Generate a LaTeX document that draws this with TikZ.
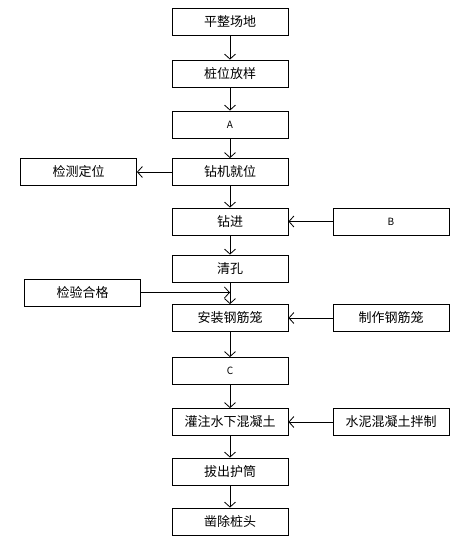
\documentclass[tikz,border=0pt]{standalone}
\usepackage{fontspec}
\setmainfont{Noto Sans CJK SC}
\usetikzlibrary{arrows.meta,positioning,shapes}

\begin{document}
\begin{tikzpicture}[x=1pt,y=-1pt,->,>={Straight Barb[length=5pt,width=11pt]},line width=0.8pt]
\tikzstyle{proc}=[shape=rectangle,draw,text=black,minimum width=116pt,minimum height=27pt,inner sep=0pt,align=center,font=\fontsize{13}{15}\selectfont]
\tikzstyle{lbl}=[font=\fontsize{10}{12}\selectfont]
\useasboundingbox (0,0) rectangle (475,541);

\node[proc]		(A) at (230,21.5)                  {平整场地};
\node[proc]		(B) [below of=A, node distance=52pt]   {桩位放样};
\node[proc,lbl]	(C) [below of=B, node distance=51pt]   {A};
\node[proc]		(D) [below of=C, node distance=47.5pt] {钻机就位};
\node[proc]		(E) [below of=D, node distance=49.5pt] {钻进};
\node[proc]		(F) [below of=E, node distance=47pt]   {清孔};
\node[proc]		(G) [below of=F, node distance=49.5pt] {安装钢筋笼};
\node[proc,lbl]	(H) [below of=G, node distance=53pt]   {C};
\node[proc]		(I) [below of=H, node distance=51pt]   {灌注水下混凝土};
\node[proc]		(J) [below of=I, node distance=49.5pt] {拔出护筒};
\node[proc]		(K) [below of=J, node distance=50pt]   {凿除桩头};

\node[proc]		(L) [left of=D, node distance=151.5pt]  {检测定位};
\node[proc,lbl]	(M) [right of=E, node distance=161pt]   {B};
\node[proc]		(N) at (82.5,292.5)                     {检验合格};
\node[proc]		(O) [right of=G, node distance=161pt]   {制作钢筋笼};
\node[proc]		(P) [right of=I, node distance=161pt]   {水泥混凝土拌制};
\coordinate		(Q) at (F.south |- N.east);

\path
(A) edge (B)
(B) edge (C)
(C) edge (D)
(D) edge (E)
(E) edge (F)
(F) edge (G)
(G) edge (H)
(H) edge (I)
(I) edge (J)
(J) edge (K)
(D) edge (L)
(M) edge (E)
(N.east) edge (Q)
(O) edge (G)
(P) edge (I)
;
\end{tikzpicture}
\end{document}
